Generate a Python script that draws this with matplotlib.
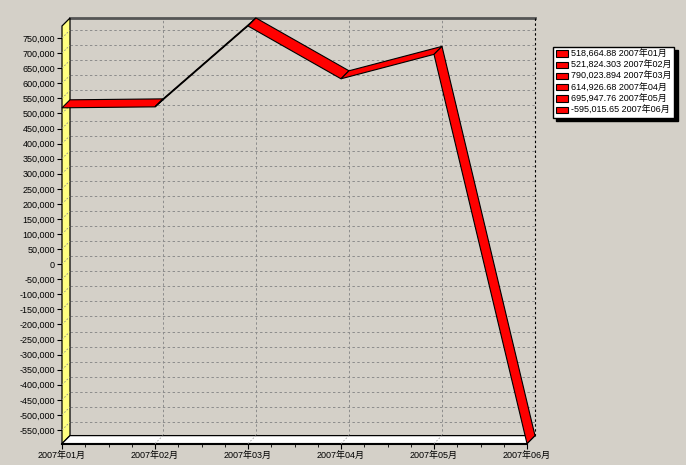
import numpy as np
import matplotlib.pyplot as plt
import matplotlib.transforms as mtransforms
from matplotlib.patches import Polygon, Rectangle
from matplotlib.ticker import FuncFormatter, MultipleLocator

# 数据
months = ['2007年01月', '2007年02月', '2007年03月', '2007年04月', '2007年05月', '2007年06月']
values = [518664.88, 521824.303, 790023.894, 614926.68, 695947.76, -595015.65]
y_ticks = list(range(-550000, 750001, 50000))

BG = '#D4D0C8'
plt.rcParams['font.family'] = ['Liberation Sans', 'Noto Sans CJK SC']
plt.rcParams['font.size'] = 6.5

W, H = 686, 465
fig = plt.figure(figsize=(W / 100, H / 100), dpi=100, facecolor=BG)

# 前平面位置（像素）
left, right, top, bottom = 62, 527, 26, 443.6
ax = fig.add_axes([left / W, 1 - bottom / H, (right - left) / W, (bottom - top) / H])
n = len(months) - 1
ymin, ymax = min(values), max(values)
ax.set_xlim(0, n)
ax.set_ylim(ymin, ymax)
ax.patch.set_visible(False)
for s in ax.spines.values():
    s.set_visible(False)

# 3D 深度偏移：右 8px，上 8px
back = ax.transData + mtransforms.ScaledTranslation(0.08, 0.08, fig.dpi_scale_trans)
disp = mtransforms.IdentityTransform()


def F(x, y):
    return ax.transData.transform((x, y))


def B(x, y):
    return back.transform((x, y))


def poly(pts, **kw):
    p = Polygon(np.array(pts), closed=True, transform=disp, clip_on=False, **kw)
    ax.add_patch(p)
    return p


grid_kw = dict(color='#8C8C8C', lw=0.7, ls=(0, (2.5, 2.5)), clip_on=False, zorder=1)

# 背墙网格
for yt in y_ticks:
    ax.plot([0, n], [yt, yt], transform=back, **grid_kw)
for i in range(1, n):
    ax.plot([i, i], [ymin, ymax], transform=back, **grid_kw)

# 背墙上边框和右边框
ax.plot([0, n], [ymax, ymax], transform=back, color='#555555', lw=2, clip_on=False, zorder=2)
ax.plot([n, n], [ymin, ymax], transform=back, color='black', lw=0.8,
        ls=(0, (2.2, 2.2)), clip_on=False, zorder=2)

# 左墙（黄色）和底面（白色）
poly([F(0, ymax), F(0, ymin), B(0, ymin), B(0, ymax)],
     facecolor='#FFFF80', edgecolor='black', lw=0.9, zorder=3)
poly([F(0, ymin), F(n, ymin), B(n, ymin), B(0, ymin)],
     facecolor='white', edgecolor='black', lw=0.9, zorder=3)
ax.plot([0, n], [ymin, ymin], color='black', lw=1.5, clip_on=False, zorder=4)

# 墙面上的斜线
for yt in y_ticks:
    a, b = F(0, yt), B(0, yt)
    ax.plot([a[0], b[0]], [a[1], b[1]], transform=disp, color='#8C8C8C', lw=0.6,
            ls=(0, (2, 2)), clip_on=False, zorder=4)
for i in range(1, n):
    a, b = F(i, ymin), B(i, ymin)
    ax.plot([a[0], b[0]], [a[1], b[1]], transform=disp, color='#A8A8A8', lw=0.6,
            ls=(0, (2, 2)), clip_on=False, zorder=4)

# 3D 折线带
for i in range(n):
    poly([F(i, values[i]), F(i + 1, values[i + 1]), B(i + 1, values[i + 1]), B(i, values[i])],
         facecolor='#FF0000', edgecolor='black', lw=0.8, zorder=5 + i)

# 坐标轴刻度
ax.set_yticks(y_ticks)
ax.yaxis.set_major_formatter(FuncFormatter(lambda v, p: f'{v:,.0f}'))
ax.tick_params(axis='y', length=3.5, width=0.8, pad=1.5, colors='black')
ax.set_xticks(range(len(months)))
ax.set_xticklabels(months)
ax.xaxis.set_minor_locator(MultipleLocator(0.25))
ax.tick_params(axis='x', which='major', length=3.5, width=0.8, pad=1.5, colors='black')
ax.tick_params(axis='x', which='minor', length=2, width=0.6, color='black')


def fmt(v):
    return f'{v:,.3f}'.rstrip('0').rstrip('.')


labels = [f'{fmt(v)} {m}' for v, m in zip(values, months)]
handles = [Rectangle((0, 0), 1, 1, facecolor='#FF0000', edgecolor='black', lw=0.8) for _ in values]
leg = ax.legend(handles, labels, loc='upper left', bbox_to_anchor=(553 / W, 1 - 47 / H),
                bbox_transform=fig.transFigure, borderaxespad=0, fancybox=False,
                frameon=True, edgecolor='black', facecolor='white', framealpha=1,
                shadow={'color': 'black', 'alpha': 1, 'ox': 2.5, 'oy': -2.5},
                handlelength=1.4, handleheight=0.7, handletextpad=0.3,
                labelspacing=0.24, borderpad=0.3, fontsize=6.5)
leg.get_frame().set_linewidth(1)

fig.savefig('out.png', dpi=100, facecolor=BG)
